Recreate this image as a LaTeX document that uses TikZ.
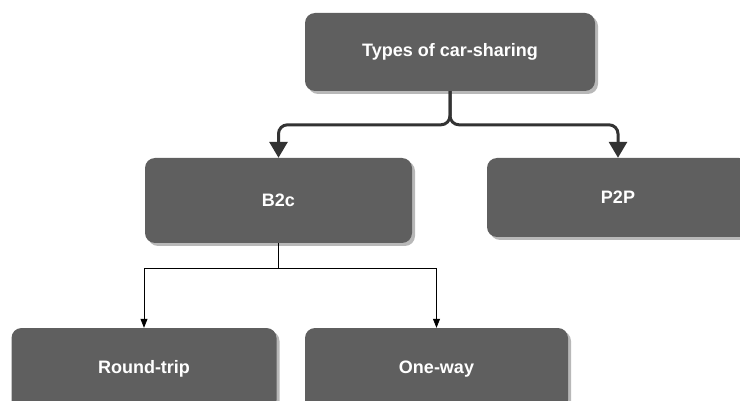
\documentclass[tikz,border=0pt]{standalone}
\usepackage{fontspec}
\setmainfont{Liberation Sans}
\usetikzlibrary{arrows.meta,shadows}
\definecolor{boxgray}{RGB}{95,95,95}
\definecolor{brace}{RGB}{51,51,51}
\begin{document}
\begin{tikzpicture}[x=1pt,y=-1pt,
  box/.style={rectangle, rounded corners=10pt, fill=boxgray, draw=none,
    text=white, font=\bfseries\fontsize{18}{20}\selectfont, inner sep=0pt,
    drop shadow={shadow xshift=3pt, shadow yshift=-3pt, fill=black!28, opacity=1}},
  bigarrow/.style={draw=brace, line width=3pt, rounded corners=9pt,
    -{Triangle[width=18pt,length=16pt]}},
  smallarrow/.style={draw=black, line width=0.8pt,
    -{Triangle[width=7pt,length=9pt]}}]
\path[use as bounding box] (0,0) rectangle (740,401);
\clip (0,0) rectangle (740,401);
\node[box, minimum width=290pt, minimum height=78pt] (top) at (450,52) {Types of car-sharing};
\node[box, minimum width=267pt, minimum height=85pt] (b2c) at (278.5,200.5) {B2c};
\node[box, minimum width=262pt, minimum height=79pt] (p2p) at (618,197.5) {P2P};
\node[box, minimum width=265pt, minimum height=82pt] (rt) at (144,369) {Round-trip};
\node[box, minimum width=263pt, minimum height=82pt] (ow) at (436.5,369) {One-way};
\draw[bigarrow] (top.south) |- ([yshift=33pt]b2c.north) -- (b2c.north);
\draw[bigarrow] (top.south) |- ([yshift=33pt]p2p.north) -- (p2p.north);
\draw[smallarrow] (b2c.south) |- ([yshift=59pt]rt.north) -- (rt.north);
\draw[smallarrow] (b2c.south) |- ([yshift=59pt]ow.north) -- (ow.north);
\end{tikzpicture}
\end{document}
